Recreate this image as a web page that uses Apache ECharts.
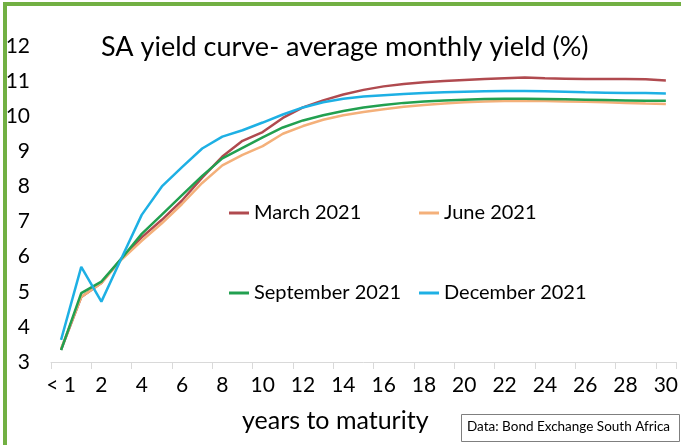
<!DOCTYPE html>
<html>
<head>
<meta charset="utf-8">
<script src="https://cdn.jsdelivr.net/npm/echarts@6/dist/echarts.min.js"></script>
<style>
  html, body { margin: 0; padding: 0; background: #fff; }
  #chart { width: 681px; height: 445px; }
</style>
</head>
<body>
<div id="chart"></div>
<script>
// years to maturity
const categories = ['< 1', '1', '2', '3', '4', '5', '6', '7', '8', '9', '10',
  '11', '12', '13', '14', '15', '16', '17', '18', '19', '20',
  '21', '22', '23', '24', '25', '26', '27', '28', '29', '30'];

const march2021 = [3.35, 4.85, 5.25, 5.95, 6.55, 7.05, 7.6, 8.25, 8.85, 9.3, 9.55,
  9.95, 10.25, 10.45, 10.62, 10.75, 10.85, 10.92, 10.97, 11.0, 11.03,
  11.06, 11.08, 11.1, 11.08, 11.07, 11.06, 11.06, 11.06, 11.05, 11.02];
const june2021 = [3.38, 4.85, 5.25, 5.92, 6.45, 6.95, 7.5, 8.1, 8.6, 8.9, 9.15,
  9.5, 9.72, 9.9, 10.03, 10.12, 10.2, 10.27, 10.32, 10.36, 10.4,
  10.42, 10.43, 10.44, 10.43, 10.42, 10.41, 10.4, 10.38, 10.36, 10.35];
const september2021 = [3.34, 4.96, 5.29, 5.95, 6.65, 7.2, 7.75, 8.3, 8.8, 9.1, 9.4,
  9.68, 9.88, 10.03, 10.15, 10.25, 10.32, 10.38, 10.42, 10.45, 10.47,
  10.49, 10.5, 10.5, 10.49, 10.48, 10.47, 10.46, 10.45, 10.44, 10.44];
const december2021 = [3.63, 5.71, 4.72, 5.96, 7.19, 8.0, 8.55, 9.08, 9.42, 9.6, 9.82,
  10.05, 10.25, 10.4, 10.5, 10.56, 10.6, 10.63, 10.66, 10.68, 10.7,
  10.71, 10.72, 10.72, 10.71, 10.7, 10.68, 10.67, 10.66, 10.66, 10.65];

const yTicks = { min: 3, max: 12, step: 1 };

const font = 'Lato, "Open Sans", sans-serif';
const colors = ['#b04a4f', '#f4b07a', '#22a050', '#1eb0e4'];

const chart = echarts.init(document.getElementById('chart'));

function line(name, data, color) {
  return {
    name: name,
    type: 'line',
    data: data,
    symbol: 'none',
    smooth: false,
    lineStyle: { width: 2.5, color: color },
    itemStyle: { color: color }
  };
}

const legendBase = {
  orient: 'vertical',
  icon: 'rect',
  itemWidth: 20,
  itemHeight: 3,
  itemGap: 60,
  textStyle: { fontFamily: font, fontSize: 20, color: '#000' }
};

const option = {
  animation: false,
  color: colors,
  title: {
    text: 'SA yield curve- average monthly yield (%)',
    left: 96,
    top: 29,
    textStyle: { fontFamily: font, fontSize: 27, fontWeight: 'normal', color: '#000' }
  },
  legend: [
    Object.assign({}, legendBase, { data: ['March 2021', 'September 2021'], left: 224, top: 198 }),
    Object.assign({}, legendBase, { data: ['June 2021', 'December 2021'], left: 414, top: 198 })
  ],
  grid: { left: 51, right: 2, top: 46, bottom: 83, containLabel: false },
  xAxis: {
    type: 'category',
    data: categories,
    boundaryGap: true,
    axisLine: { lineStyle: { color: '#d9d9d9', width: 1 } },
    axisTick: { show: true, interval: 1, length: 7, lineStyle: { color: '#d9d9d9' } },
    axisLabel: { interval: 1, fontFamily: font, fontSize: 21, color: '#000', margin: 13 }
  },
  yAxis: {
    type: 'value',
    min: yTicks.min,
    max: yTicks.max,
    interval: yTicks.step,
    axisLine: { show: false },
    axisTick: { show: false },
    splitLine: { show: false },
    axisLabel: { fontFamily: font, fontSize: 21, color: '#000', margin: 21 }
  },
  graphic: [
    { type: 'rect', left: 3, top: 2, shape: { width: 4, height: 443 }, style: { fill: '#72b043' } },
    { type: 'rect', left: 3, top: 2, shape: { width: 678, height: 4 }, style: { fill: '#72b043' } },
    {
      type: 'text', left: 242, top: 408,
      style: { text: 'years to maturity', fontFamily: font, fontSize: 25, fill: '#000' }
    },
    {
      type: 'rect', left: 461, top: 414,
      shape: { width: 218, height: 27 },
      style: { fill: '#fff', stroke: '#7f7f7f', lineWidth: 1 }
    },
    {
      type: 'text', left: 467, top: 420,
      style: { text: 'Data: Bond Exchange South Africa', fontFamily: font, fontSize: 13.5, fill: '#000' }
    }
  ],
  series: [
    line('March 2021', march2021, colors[0]),
    line('June 2021', june2021, colors[1]),
    line('September 2021', september2021, colors[2]),
    line('December 2021', december2021, colors[3])
  ]
};

chart.setOption(option);
</script>
</body>
</html>
